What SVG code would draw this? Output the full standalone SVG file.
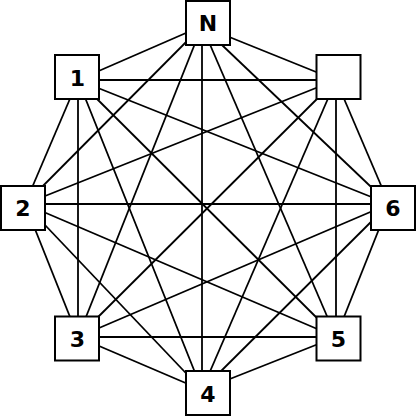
<svg xmlns="http://www.w3.org/2000/svg" width="416" height="416" viewBox="0 0 416 416">
<style>
.e{stroke:#000;stroke-width:1.8;fill:none}
.b{fill:#fff;stroke:#000;stroke-width:2}
.t{font-family:"DejaVu Sans",sans-serif;font-weight:bold;font-size:22px;text-anchor:middle;fill:#000}
</style>
<rect width="416" height="416" fill="#fff"/>
<g id="edges" class="e">
<line x1="202" y1="26" x2="336" y2="80"/>
<line x1="202" y1="26" x2="389" y2="204"/>
<line x1="202" y1="26" x2="336" y2="337"/>
<line x1="202" y1="26" x2="202" y2="390"/>
<line x1="202" y1="26" x2="78" y2="337"/>
<line x1="202" y1="26" x2="25" y2="204"/>
<line x1="202" y1="26" x2="78" y2="80"/>
<line x1="336" y1="80" x2="389" y2="204"/>
<line x1="336" y1="80" x2="336" y2="337"/>
<line x1="336" y1="80" x2="202" y2="390"/>
<line x1="336" y1="80" x2="78" y2="337"/>
<line x1="336" y1="80" x2="25" y2="204"/>
<line x1="336" y1="80" x2="78" y2="80"/>
<line x1="389" y1="204" x2="336" y2="337"/>
<line x1="389" y1="204" x2="202" y2="390"/>
<line x1="389" y1="204" x2="78" y2="337"/>
<line x1="389" y1="204" x2="25" y2="204"/>
<line x1="389" y1="204" x2="78" y2="80"/>
<line x1="336" y1="337" x2="202" y2="390"/>
<line x1="336" y1="337" x2="78" y2="337"/>
<line x1="336" y1="337" x2="25" y2="204"/>
<line x1="336" y1="337" x2="78" y2="80"/>
<line x1="202" y1="390" x2="78" y2="337"/>
<line x1="202" y1="390" x2="25" y2="204"/>
<line x1="202" y1="390" x2="78" y2="80"/>
<line x1="78" y1="337" x2="25" y2="204"/>
<line x1="78" y1="337" x2="78" y2="80"/>
<line x1="25" y1="204" x2="78" y2="80"/>
</g>
<g id="nodeN"><rect class="b" x="186" y="1" width="44" height="44"/><text class="t" x="208" y="31">N</text></g>
<g id="node1"><rect class="b" x="55" y="55" width="44" height="44"/><text class="t" x="77.5" y="85.5">1</text></g>
<g id="nodeTR"><rect class="b" x="316.5" y="55" width="44" height="44"/></g>
<g id="node2"><rect class="b" x="1" y="186" width="44" height="44"/><text class="t" x="23" y="216">2</text></g>
<g id="node6"><rect class="b" x="371" y="186" width="44" height="44"/><text class="t" x="393" y="216">6</text></g>
<g id="node3"><rect class="b" x="55" y="316.5" width="44" height="44"/><text class="t" x="77.5" y="347">3</text></g>
<g id="node5"><rect class="b" x="316.5" y="316.5" width="44" height="44"/><text class="t" x="338.5" y="347">5</text></g>
<g id="node4"><rect class="b" x="186" y="371" width="44" height="44"/><text class="t" x="208" y="402">4</text></g>
</svg>
